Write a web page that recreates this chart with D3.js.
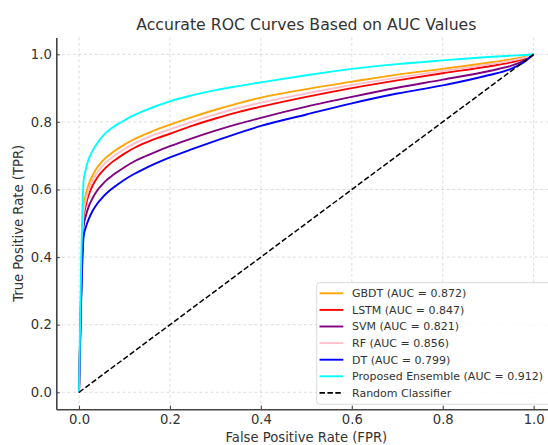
<!DOCTYPE html>
<html>
<head>
<meta charset="utf-8">
<script src="https://cdn.jsdelivr.net/npm/d3@7"></script>
<style>
  body { margin: 0; background: #fff; }
  svg { display: block; font-family: "DejaVu Sans", sans-serif; }
</style>
</head>
<body>
<svg id="chart" width="548" height="445"></svg>
<script>
// ---- Data ----
const fpr = [0, 0.01, 0.015, 0.02, 0.03, 0.04, 0.05, 0.06, 0.07, 0.08, 0.1, 0.12, 0.14, 0.17, 0.2, 0.25, 0.3, 0.35, 0.4, 0.5, 0.6, 0.7, 0.8, 0.9, 0.95, 0.98, 1.0];
const gbdtTPR     = [0, 0.55, 0.585, 0.61, 0.642, 0.665, 0.682, 0.695, 0.706, 0.716, 0.733, 0.748, 0.760, 0.777, 0.792, 0.815, 0.836, 0.855, 0.872, 0.897, 0.919, 0.940, 0.957, 0.975, 0.985, 0.992, 1.0];
const lstmTPR     = [0, 0.515, 0.553, 0.579, 0.612, 0.635, 0.652, 0.666, 0.678, 0.688, 0.706, 0.722, 0.735, 0.751, 0.765, 0.789, 0.810, 0.829, 0.845, 0.874, 0.900, 0.923, 0.944, 0.964, 0.976, 0.987, 1.0];
const svmTPR      = [0, 0.49, 0.522, 0.545, 0.575, 0.597, 0.613, 0.627, 0.638, 0.648, 0.666, 0.682, 0.695, 0.712, 0.728, 0.752, 0.774, 0.794, 0.812, 0.845, 0.874, 0.901, 0.925, 0.950, 0.966, 0.982, 1.0];
const rfTPR       = [0, 0.53, 0.568, 0.594, 0.627, 0.65, 0.667, 0.681, 0.692, 0.702, 0.72, 0.735, 0.748, 0.764, 0.778, 0.801, 0.822, 0.841, 0.857, 0.884, 0.909, 0.931, 0.951, 0.970, 0.981, 0.990, 1.0];
const dtTPR       = [0, 0.46, 0.488, 0.508, 0.537, 0.558, 0.574, 0.588, 0.600, 0.610, 0.629, 0.645, 0.659, 0.678, 0.695, 0.720, 0.744, 0.767, 0.788, 0.822, 0.855, 0.884, 0.908, 0.938, 0.957, 0.978, 1.0];
const ensembleTPR = [0, 0.625, 0.66, 0.685, 0.715, 0.737, 0.755, 0.769, 0.780, 0.789, 0.805, 0.819, 0.831, 0.847, 0.861, 0.879, 0.894, 0.906, 0.917, 0.938, 0.957, 0.971, 0.982, 0.992, 0.996, 0.998, 1.0];
const randomX = [0, 1];
const randomY = [0, 1];

const seriesNames = ["GBDT (AUC = 0.872)", "LSTM (AUC = 0.847)", "SVM (AUC = 0.821)", "RF (AUC = 0.856)", "DT (AUC = 0.799)", "Proposed Ensemble (AUC = 0.912)"];
const seriesValues = [gbdtTPR, lstmTPR, svmTPR, rfTPR, dtTPR, ensembleTPR];
const seriesColors = ["orange", "red", "purple", "pink", "blue", "cyan"];
const randomName = "Random Classifier";
const tickValues = [0, 0.2, 0.4, 0.6, 0.8, 1.0];

const titleText = "Accurate ROC Curves Based on AUC Values";
const xLabel = "False Positive Rate (FPR)";
const yLabel = "True Positive Rate (TPR)";

// ---- Layout ----
const svg = d3.select("#chart");
const pLeft = 56.3, pRight = 556.4, pTop = 37.4, pBottom = 409.2;
const x = d3.scaleLinear().domain([-0.05, 1.05]).range([pLeft, pRight]);
const y = d3.scaleLinear().domain([-0.05, 1.05]).range([pBottom, pTop]);
const textColor = "#333";

// grid
const grid = svg.append("g");
grid.selectAll("line.gx").data(tickValues).join("line")
  .attr("x1", d => x(d)).attr("x2", d => x(d)).attr("y1", pTop).attr("y2", pBottom)
  .attr("stroke", "#d4d4d4").attr("stroke-width", 0.8).attr("stroke-dasharray", "3,2.5");
grid.selectAll("line.gy").data(tickValues).join("line")
  .attr("y1", d => y(d)).attr("y2", d => y(d)).attr("x1", pLeft).attr("x2", pRight)
  .attr("stroke", "#d4d4d4").attr("stroke-width", 0.8).attr("stroke-dasharray", "3,2.5");

// axes (ticks point inward)
const xAxis = d3.axisBottom(x).tickValues(tickValues).tickFormat(d3.format(".1f")).tickSizeOuter(0).tickSizeInner(-3.5).tickPadding(5.5);
const yAxis = d3.axisLeft(y).tickValues(tickValues).tickFormat(d3.format(".1f")).tickSizeOuter(0).tickSizeInner(-3.5).tickPadding(4.5);
const gx = svg.append("g").attr("transform", `translate(0,${pBottom})`).call(xAxis);
const gy = svg.append("g").attr("transform", `translate(${pLeft},0)`).call(yAxis);
[gx, gy].forEach(g => {
  g.select(".domain").attr("stroke", "#444").attr("stroke-width", 1.6);
  g.selectAll(".tick line").attr("stroke", "#444").attr("stroke-width", 1);
  g.selectAll(".tick text").attr("fill", textColor).style("font-size", "13.2px").style("font-family", "DejaVu Sans");
});

// lines
const line = d3.line().x(d => x(d[0])).y(d => y(d[1])).curve(d3.curveMonotoneX);
const plot = svg.append("g");
seriesValues.forEach((vals, i) => {
  plot.append("path")
    .datum(fpr.map((f, j) => [f, vals[j]]))
    .attr("d", line)
    .attr("fill", "none")
    .attr("stroke", seriesColors[i])
    .attr("stroke-width", 1.9)
    .attr("stroke-linejoin", "round");
});
plot.append("path")
  .datum(randomX.map((v, j) => [v, randomY[j]]))
  .attr("d", d3.line().x(d => x(d[0])).y(d => y(d[1])))
  .attr("fill", "none").attr("stroke", "#000").attr("stroke-width", 1.5)
  .attr("stroke-dasharray", "5.5,2.4");

// title & labels
svg.append("text").attr("x", (pLeft + pRight) / 2).attr("y", 30)
  .attr("text-anchor", "middle").attr("fill", textColor)
  .style("font-size", "15.7px").text(titleText);
svg.append("text").attr("x", (pLeft + pRight) / 2).attr("y", 441.5)
  .attr("text-anchor", "middle").attr("fill", textColor)
  .style("font-size", "13.2px").text(xLabel);
svg.append("text").attr("transform", `translate(23,${(pTop + pBottom) / 2}) rotate(-90)`)
  .attr("text-anchor", "middle").attr("fill", textColor)
  .style("font-size", "13.2px").text(yLabel);

// legend
const legendNames = seriesNames.concat([randomName]);
const legendColors = seriesColors.concat(["#000"]);
const lg = svg.append("g");
const lx = 316.7, ly = 282.7, lw = 235, lh = 121.5;
lg.append("rect").attr("x", lx).attr("y", ly).attr("width", lw).attr("height", lh)
  .attr("rx", 3).attr("fill", "rgba(255,255,255,0.85)").attr("stroke", "#d6d6d6").attr("stroke-width", 0.9);
legendNames.forEach((name, i) => {
  const yy = 293.3 + i * 16.6;
  lg.append("line").attr("x1", 319.5).attr("x2", 343.3).attr("y1", yy).attr("y2", yy)
    .attr("stroke", legendColors[i]).attr("stroke-width", 1.9)
    .attr("stroke-dasharray", i === legendNames.length - 1 ? "5.5,2.4" : null);
  lg.append("text").attr("x", 352).attr("y", yy).attr("dy", "0.35em")
    .attr("fill", textColor).style("font-size", "11px").text(name);
});
</script>
</body>
</html>
